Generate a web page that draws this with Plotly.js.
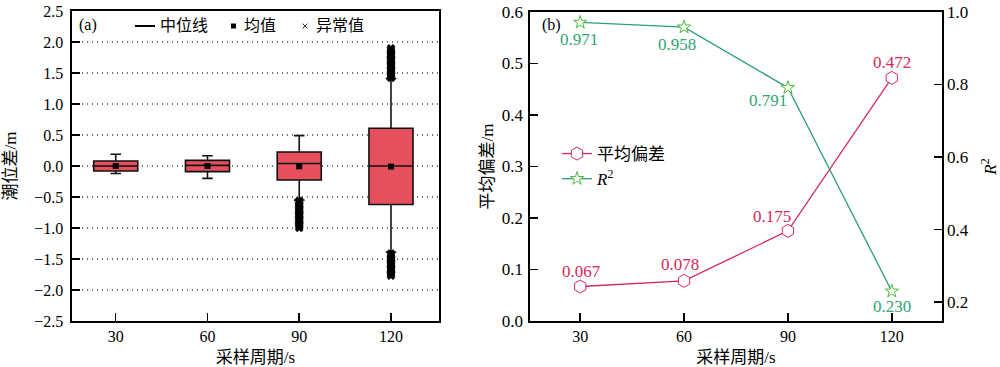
<!DOCTYPE html>
<html>
<head>
<meta charset="utf-8">
<script src="https://cdn.plot.ly/plotly-3.0.1.min.js"></script>
<style>html,body{margin:0;padding:0;background:#fff}#chart{width:1000px;height:367px}</style>
</head>
<body>
<div id="chart"></div>
<script>
// ---------- data ----------
const periods = [30, 60, 90, 120];
const boxQ1 = [-0.08, -0.09, -0.225, -0.62];
const boxMedian = [0.0, 0.01, 0.04, 0.0];
const boxQ3 = [0.08, 0.09, 0.225, 0.61];
const boxLower = [-0.12, -0.20, -0.55, -1.39];
const boxUpper = [0.19, 0.165, 0.49, 1.41];
const boxMean = [0.0, 0.0, -0.005, -0.01];
const outliers90 = [-0.56,-0.58,-0.60,-0.62,-0.64,-0.66,-0.68,-0.70,-0.72,-0.74,-0.76,-0.78,-0.80,-0.82,-0.84,-0.86,-0.88,-0.90,-0.92,-0.94,-0.96,-0.98,-1.00];
const outliers120 = [1.42,1.44,1.46,1.48,1.50,1.52,1.54,1.56,1.58,1.60,1.62,1.64,1.66,1.68,1.70,1.72,1.74,1.76,1.78,1.80,1.82,1.84,1.86,1.88,1.90,
  -1.41,-1.43,-1.45,-1.47,-1.49,-1.51,-1.53,-1.55,-1.57,-1.59,-1.61,-1.63,-1.65,-1.67,-1.69,-1.71,-1.73,-1.75,-1.77];
const meanBias = [0.067, 0.078, 0.175, 0.472];
const r2 = [0.971, 0.958, 0.791, 0.230];
const xTickLabels = ['30', '60', '90', '120'];

// ---------- styles ----------
const FONT = 'Liberation Serif, Times New Roman, Noto Sans CJK SC, serif';
const RED = '#D6285A';
const GREEN = '#2E9E76';
const STAR = '#4DBB3A';
const GREENTXT = '#2FA574';
const BOXFILL = '#E6505C';
const biasShift = [[1, 15], [-4, 16], [-16, 14], [0, 15]];
const r2Shift = [[-1, -17], [-7, -17], [-20, -13], [0, -15]];

// plot area in px: x 72..942, y 11..321
const L = 72, R = 942, T = 11, B = 321;
const px = x => (x - L) / (R - L);
const py = y => (B - y) / (B - T);

const ox90 = outliers90.map(() => periods[2]);
const ox120 = outliers120.map(() => periods[3]);

const traces = [
  {
    type: 'box', xaxis: 'x', yaxis: 'y', x: periods,
    q1: boxQ1, median: boxMedian, q3: boxQ3, lowerfence: boxLower, upperfence: boxUpper,
    width: 14.4, whiskerwidth: 0.24, boxpoints: false,
    fillcolor: BOXFILL, line: {color: '#111', width: 1.6}, showlegend: false, hoverinfo: 'skip'
  },
  {
    type: 'scatter', mode: 'markers', xaxis: 'x', yaxis: 'y',
    x: ox90.concat(ox120), y: outliers90.concat(outliers120),
    marker: {symbol: 'x', size: 7, color: '#000', line: {width: 0.5, color: '#000'}},
    showlegend: false, hoverinfo: 'skip'
  },
  {
    type: 'scatter', mode: 'markers', xaxis: 'x', yaxis: 'y',
    x: periods, y: boxMean,
    marker: {symbol: 'square', size: 6, color: '#000'},
    showlegend: false, hoverinfo: 'skip'
  },
  {
    type: 'scatter', mode: 'lines+markers', xaxis: 'x2', yaxis: 'y2',
    x: periods, y: meanBias, name: '平均偏差',
    line: {color: RED, width: 1.3},
    marker: {symbol: 'hexagon', size: 13, color: '#fff', line: {color: RED, width: 1}}
  },
  {
    type: 'scatter', mode: 'lines+markers', xaxis: 'x2', yaxis: 'y3',
    x: periods, y: r2, name: '<i>R</i><sup>2</sup>',
    line: {color: GREEN, width: 1.3},
    marker: {symbol: 'star', size: 10, color: '#fff', line: {color: STAR, width: 1}}
  }
];

const axBase = {
  showline: true, linecolor: '#000', linewidth: 1.6, ticks: 'inside', ticklen: 8,
  tickwidth: 1.5, tickcolor: '#000', zeroline: false, showgrid: false,
  tickfont: {family: FONT, size: 16, color: '#000'}
};

const annotations = [];
meanBias.forEach((v, i) => annotations.push({
  xref: 'x2', yref: 'y2', x: periods[i], y: v, text: v.toFixed(3), showarrow: false,
  xshift: biasShift[i][0], yshift: biasShift[i][1], font: {family: FONT, size: 17, color: RED}
}));
r2.forEach((v, i) => annotations.push({
  xref: 'x2', yref: 'y3', x: periods[i], y: v, text: v.toFixed(3), showarrow: false,
  xshift: r2Shift[i][0], yshift: r2Shift[i][1], font: {family: FONT, size: 17, color: GREENTXT}
}));
// panel labels and left-panel legend
const t = (x, y, text, size, anchor) => ({xref: 'paper', yref: 'paper', x: px(x), y: py(y), text: text,
  showarrow: false, xanchor: anchor || 'left', yanchor: 'middle', font: {family: FONT, size: size, color: '#000'}});
annotations.push(t(77, 25, '(a)', 16));
annotations.push(t(540, 25, '(b)', 16));
annotations.push(t(158, 26, '中位线', 16));
annotations.push(t(242, 26, '均值', 16));
annotations.push(t(314, 26, '异常值', 16));

const shapes = [
  {type: 'line', xref: 'paper', yref: 'paper', x0: px(135), x1: px(155), y0: py(26), y1: py(26),
   line: {color: '#000', width: 2}},
  {type: 'rect', xref: 'paper', yref: 'paper', x0: px(231), x1: px(236), y0: py(23.5), y1: py(28.5),
   fillcolor: '#000', line: {width: 0}},
  {type: 'line', xref: 'paper', yref: 'paper', x0: px(302.5), x1: px(307.5), y0: py(23.5), y1: py(28.5),
   line: {color: '#333', width: 1}},
  {type: 'line', xref: 'paper', yref: 'paper', x0: px(302.5), x1: px(307.5), y0: py(28.5), y1: py(23.5),
   line: {color: '#333', width: 1}}
];

const layout = {
  width: 1000, height: 367,
  margin: {l: L, r: 1000 - R, t: T, b: 367 - B},
  paper_bgcolor: '#fff', plot_bgcolor: '#fff',
  font: {family: FONT, size: 16, color: '#000'},
  xaxis: Object.assign({}, axBase, {
    domain: [0, px(439)], range: [15.7, 135.7], tickvals: periods, ticktext: xTickLabels,
    mirror: true, anchor: 'y',
    title: {text: '采样周期/s', font: {family: FONT, size: 17}, standoff: 8}
  }),
  yaxis: Object.assign({}, axBase, {
    domain: [0, 1], range: [-2.5, 2.5], dtick: 0.5, tickformat: '.1f', mirror: true, anchor: 'x',
    ticklabelstandoff: 4,
    showgrid: true, gridcolor: '#5f7878', griddash: '1px,4px', gridwidth: 1.2,
    title: {text: '潮位差/m', font: {family: FONT, size: 17}, standoff: 13}
  }),
  xaxis2: Object.assign({}, axBase, {
    domain: [px(530), 1], range: [15.5, 134.5], tickvals: periods, ticktext: xTickLabels,
    mirror: true, anchor: 'y2',
    title: {text: '采样周期/s', font: {family: FONT, size: 17}, standoff: 8}
  }),
  yaxis2: Object.assign({}, axBase, {
    domain: [0, 0.997], range: [0, 0.6], dtick: 0.1, tickformat: '.1f', anchor: 'x2',
    ticklabelstandoff: 2,
    tickfont: {family: FONT, size: 17, color: '#000'},
    title: {text: '平均偏差/m', font: {family: FONT, size: 17}, standoff: 4}
  }),
  yaxis3: Object.assign({}, axBase, {
    overlaying: 'y2', side: 'right', anchor: 'x2', range: [0.148, 1.0],
    tickvals: [0.2, 0.4, 0.6, 0.8, 1.0], tickformat: '.1f',
    tickfont: {family: FONT, size: 17, color: '#000'},
    title: {text: '<i>R</i><sup>2</sup>', font: {family: FONT, size: 17}, standoff: 22}
  }),
  legend: {
    x: px(557), y: py(136), xanchor: 'left', yanchor: 'top',
    bgcolor: 'rgba(0,0,0,0)', borderwidth: 0, tracegroupgap: 0,
    font: {family: FONT, size: 17, color: '#000'}
  },
  showlegend: true,
  annotations: annotations,
  shapes: shapes
};

Plotly.newPlot('chart', traces, layout, {displayModeBar: false, staticPlot: true});
</script>
</body>
</html>
